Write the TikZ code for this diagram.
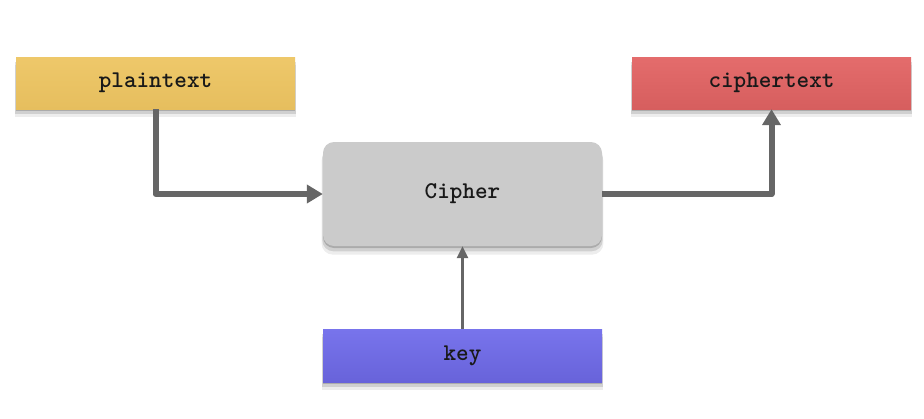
\documentclass[tikz,border=0pt]{standalone}
\usepackage{fontspec}
\usetikzlibrary{shadows,arrows.meta}
\definecolor{plainc}{HTML}{E6BE5E}
\definecolor{plaintop}{HTML}{EEC86A}
\definecolor{cipherc}{HTML}{D65E5E}
\definecolor{ciphertop}{HTML}{E46C6C}
\definecolor{boxc}{HTML}{CBCBCB}
\definecolor{keyc}{HTML}{6863DA}
\definecolor{keytop}{HTML}{7874EC}
\definecolor{linec}{HTML}{666666}
\begin{document}
\begin{tikzpicture}[x=1pt,y=-1pt,
  softshadow/.style={
    drop shadow={shadow xshift=0pt, shadow yshift=-2pt, opacity=0.18, fill=black},
    drop shadow={shadow xshift=0pt, shadow yshift=-5pt, shadow scale=1.005, opacity=0.12, fill=black},
    drop shadow={shadow xshift=0pt, shadow yshift=-8pt, shadow scale=1.01, opacity=0.07, fill=black}},
  box/.style={minimum width=279pt, minimum height=52pt, inner sep=0pt,
    font=\ttfamily\bfseries\fontsize{24}{26}\selectfont, text=black!90, softshadow},
  conn/.style={draw=linec, line width=6pt, -{Triangle[length=16pt,width=18pt]}, line join=round},
  thin/.style={draw=linec, line width=2.5pt, -{Triangle[length=12pt,width=11pt]}}]
\useasboundingbox (0,0) rectangle (924,418);
\node[box, top color=plaintop, bottom color=plainc] (plain) at (155.5,83) {plaintext};
\node[box, top color=ciphertop, bottom color=cipherc] (ctext) at (771.5,83) {ciphertext};
\node[box, fill=boxc, minimum height=104pt, rounded corners=11pt] (ciph) at (462.5,194) {Cipher};
\node[box, top color=keytop, bottom color=keyc, minimum height=53pt] (key) at (462.5,355.5) {key};
\draw[conn] (plain.south) |- (ciph.west);
\draw[conn] (ciph.east) -| (ctext.south);
\draw[thin] (key.north) -- (ciph.south);
\end{tikzpicture}
\end{document}
